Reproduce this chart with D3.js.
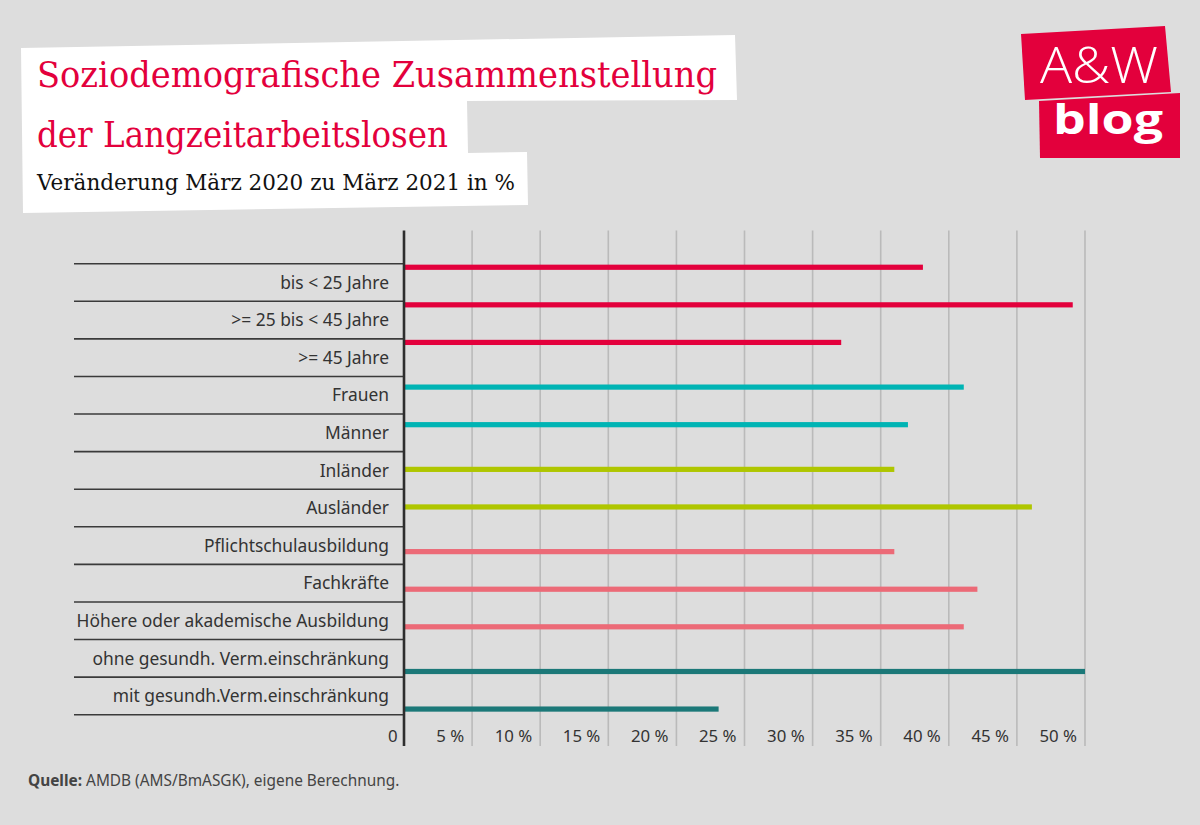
<!DOCTYPE html>
<html>
<head>
<meta charset="utf-8">
<script src="https://cdn.jsdelivr.net/npm/d3@7"></script>
<style>
  html, body { margin: 0; padding: 0; background: #dddddd; }
  svg { display: block; }
</style>
</head>
<body>
<svg id="chart" width="1200" height="825"></svg>
<script>
// ---- data ----
const categories = [
  "bis < 25 Jahre",
  ">= 25 bis < 45 Jahre",
  ">= 45 Jahre",
  "Frauen",
  "Männer",
  "Inländer",
  "Ausländer",
  "Pflichtschulausbildung",
  "Fachkräfte",
  "Höhere oder akademische Ausbildung",
  "ohne gesundh. Verm.einschränkung",
  "mit gesundh.Verm.einschränkung"
];
const values = [38.1, 49.1, 32.1, 41.1, 37.0, 36.0, 46.1, 36.0, 42.1, 41.1, 50.0, 23.1];
const groupIndex = [0, 0, 0, 1, 1, 2, 2, 3, 3, 3, 4, 4];
const groupColors = ["#e3003c", "#00b4b4", "#afc600", "#ec6a77", "#1b7878"];
const tickValues = [0, 5, 10, 15, 20, 25, 30, 35, 40, 45, 50];
const tickLabels = ["0", "5 %", "10 %", "15 %", "20 %", "25 %", "30 %", "35 %", "40 %", "45 %", "50 %"];

const title1 = "Soziodemografische Zusammenstellung";
const title2 = "der Langzeitarbeitslosen";
const subtitle = "Veränderung März 2020 zu März 2021 in %";

// ---- layout ----
const svg = d3.select("#chart");
const sans = "'Noto Sans', 'Open Sans', sans-serif";

const x = d3.scaleLinear().domain([0, 50]).range([404, 1085]);
const y = d3.scaleBand().domain(categories).range([263.7, 714.7]).padding(0);
const sub = d3.scaleBand().domain(d3.range(5)).range([0, 35.5]).padding(0);

const plotTop = 230.5, plotBottom = 746;

// gridlines
svg.append("g").selectAll("line")
  .data(tickValues.filter(d => d > 0))
  .join("line")
  .attr("x1", d => x(d)).attr("x2", d => x(d))
  .attr("y1", plotTop).attr("y2", plotBottom)
  .attr("stroke", "#bababa").attr("stroke-width", 1.6);

// row separators
const bounds = categories.map(c => y(c)).concat([y.range()[1]]);
svg.append("g").selectAll("line")
  .data(bounds)
  .join("line")
  .attr("x1", 74).attr("x2", x(0))
  .attr("y1", d => d).attr("y2", d => d)
  .attr("stroke", "#3a3a3a").attr("stroke-width", 1.6);

// category labels
svg.append("g").selectAll("text")
  .data(categories)
  .join("text")
  .attr("x", 389)
  .attr("y", d => y(d) + 25)
  .attr("text-anchor", "end")
  .attr("font-family", sans)
  .attr("font-size", 17.4)
  .attr("fill", "#333")
  .text(d => d);

// bars
svg.append("g").selectAll("rect")
  .data(categories)
  .join("rect")
  .attr("x", x(0))
  .attr("y", (d, i) => y(d) + sub(groupIndex[i]) + sub.bandwidth() / 2 - 2.6)
  .attr("width", (d, i) => x(values[i]) - x(0))
  .attr("height", 5.2)
  .attr("fill", (d, i) => groupColors[groupIndex[i]]);

// y axis line
svg.append("line")
  .attr("x1", x(0)).attr("x2", x(0))
  .attr("y1", plotTop).attr("y2", plotBottom)
  .attr("stroke", "#2e2e2e").attr("stroke-width", 2.6);

// x tick labels
svg.append("g").selectAll("text")
  .data(tickValues)
  .join("text")
  .attr("x", d => x(d) - (d === 0 ? 6.5 : 8))
  .attr("y", 741.5)
  .attr("text-anchor", "end")
  .attr("font-family", sans)
  .attr("font-size", 16.8)
  .attr("fill", "#333")
  .text((d, i) => tickLabels[i]);

// ---- title block ----
svg.append("polygon")
  .attr("points", [
    [21, 48], [735, 35], [737, 100], [467, 101], [468, 153], [527, 152], [528, 205], [23, 213]
  ].map(p => p.join(",")).join(" "))
  .attr("fill", "#ffffff");

const serif = "'DejaVu Serif', 'Liberation Serif', serif";
svg.append("text")
  .attr("x", 37).attr("y", 87)
  .attr("font-family", serif).attr("font-size", 35)
  .attr("fill", "#e3003c")
  .attr("textLength", 680).attr("lengthAdjust", "spacingAndGlyphs")
  .text(title1);
svg.append("text")
  .attr("x", 37).attr("y", 147)
  .attr("font-family", serif).attr("font-size", 35)
  .attr("fill", "#e3003c")
  .attr("textLength", 411).attr("lengthAdjust", "spacingAndGlyphs")
  .text(title2);
svg.append("text")
  .attr("x", 37).attr("y", 190)
  .attr("font-family", serif).attr("font-size", 21.5)
  .attr("fill", "#111")
  .attr("textLength", 478).attr("lengthAdjust", "spacingAndGlyphs")
  .text(subtitle);

// ---- logo ----
svg.append("polygon")
  .attr("points", [[1021, 34], [1165, 26], [1171, 92], [1025, 100]].map(p => p.join(",")).join(" "))
  .attr("fill", "#e3003c");
svg.append("polygon")
  .attr("points", [[1039, 101], [1180, 93], [1180, 158], [1040, 158]].map(p => p.join(",")).join(" "))
  .attr("fill", "#e3003c");
svg.append("text")
  .attr("x", 1040).attr("y", 83)
  .attr("font-family", "'Open Sans', sans-serif").attr("font-size", 50).attr("font-weight", 300)
  .attr("fill", "#fff")
  .attr("textLength", 118).attr("lengthAdjust", "spacingAndGlyphs")
  .text("A&W");
svg.append("text")
  .attr("x", 1053).attr("y", 134)
  .attr("font-family", "'Open Sans', sans-serif").attr("font-size", 42).attr("font-weight", 700)
  .attr("fill", "#fff")
  .attr("textLength", 110).attr("lengthAdjust", "spacingAndGlyphs")
  .text("blog");

// ---- source ----
const src = svg.append("text")
  .attr("x", 28).attr("y", 786)
  .attr("font-family", sans).attr("font-size", 15.4)
  .attr("fill", "#444");
src.append("tspan").attr("font-weight", 700).text("Quelle:");
src.append("tspan").text(" AMDB (AMS/BmASGK), eigene Berechnung.");
</script>
</body>
</html>
